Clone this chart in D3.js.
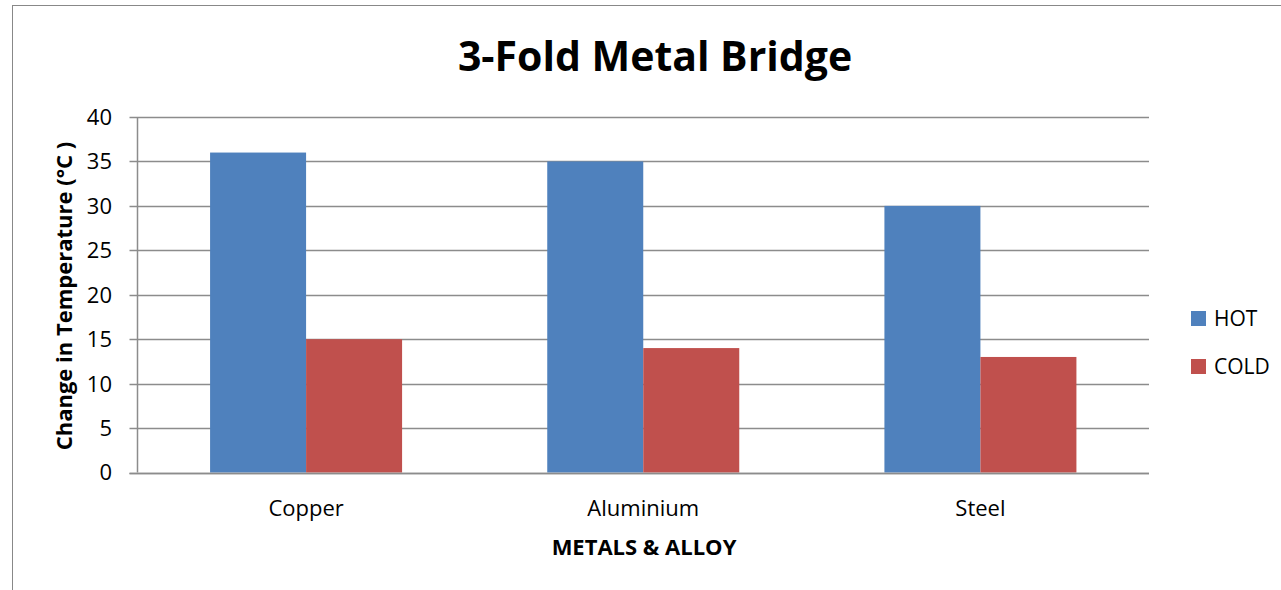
<!DOCTYPE html>
<html>
<head>
<meta charset="utf-8">
<script src="https://cdn.jsdelivr.net/npm/d3@7/dist/d3.min.js"></script>
<style>
  html, body { margin: 0; padding: 0; background: #fff; }
  svg { display: block; font-family: "Open Sans", "DejaVu Sans", sans-serif; }
</style>
</head>
<body>
<svg id="chart" width="1281" height="590"></svg>
<script>
// Temperature change per material
const metals = ["Copper", "Aluminium", "Steel"];
const seriesNames = ["HOT", "COLD"];
const hotValues = [36, 35, 30];
const coldValues = [15, 14, 13];
const yTicks = [0, 5, 10, 15, 20, 25, 30, 35, 40];
const seriesColors = ["#4F81BD", "#C0504D"];

const svg = d3.select("#chart");
const plot = { left: 137.5, right: 1149, top: 117, bottom: 472.5 };

// Outer frame (left and top edges visible)
svg.append("rect")
  .attr("x", 12.5).attr("y", 5.5)
  .attr("width", 1300).attr("height", 700)
  .attr("fill", "#fff").attr("stroke", "#888").attr("stroke-width", 1);

const x0 = d3.scaleBand().domain(metals).range([plot.left, plot.right]).padding(0);
const x1 = d3.scaleBand().domain(seriesNames).range([0, x0.bandwidth()])
  .paddingInner(0).paddingOuter(0.756);
const y = d3.scaleLinear().domain([0, 40]).range([plot.bottom, plot.top]);
const color = d3.scaleOrdinal().domain(seriesNames).range(seriesColors);

// Gridlines with left tick stubs
svg.append("g")
  .selectAll("line")
  .data(yTicks)
  .join("line")
  .attr("x1", plot.left - 8).attr("x2", plot.right)
  .attr("y1", d => Math.round(y(d)) + 0.5).attr("y2", d => Math.round(y(d)) + 0.5)
  .attr("stroke", "#8c8c8c").attr("stroke-width", 1.5);

// Y axis line
svg.append("line")
  .attr("x1", plot.left).attr("x2", plot.left)
  .attr("y1", plot.top).attr("y2", plot.bottom)
  .attr("stroke", "#8c8c8c").attr("stroke-width", 1.5);

// Bars
const rows = metals.map((m, i) => ({ metal: m, values: [hotValues[i], coldValues[i]] }));
svg.append("g")
  .selectAll("g")
  .data(rows)
  .join("g")
  .attr("transform", d => `translate(${x0(d.metal)},0)`)
  .selectAll("rect")
  .data(d => d.values.map((v, j) => ({ key: seriesNames[j], value: v })))
  .join("rect")
  .attr("x", d => x1(d.key))
  .attr("width", x1.bandwidth())
  .attr("y", d => y(d.value))
  .attr("height", d => y(0) - y(d.value))
  .attr("fill", d => color(d.key));

// Baseline drawn over the bars
svg.append("line")
  .attr("x1", plot.left - 8).attr("x2", plot.right)
  .attr("y1", Math.round(y(0)) + 0.5).attr("y2", Math.round(y(0)) + 0.5)
  .attr("stroke", "#8c8c8c").attr("stroke-width", 1.5);

// Y tick labels
svg.append("g")
  .selectAll("text")
  .data(yTicks)
  .join("text")
  .attr("x", 112)
  .attr("y", d => y(d))
  .attr("dy", "0.36em")
  .attr("text-anchor", "end")
  .attr("font-size", 22)
  .attr("fill", "#000")
  .text(d => d);

// Category labels
svg.append("g")
  .selectAll("text")
  .data(metals)
  .join("text")
  .attr("x", d => x0(d) + x0.bandwidth() / 2)
  .attr("y", 516)
  .attr("text-anchor", "middle")
  .attr("font-size", 22)
  .attr("fill", "#000")
  .text(d => d);

// Title
svg.append("text")
  .attr("x", 655).attr("y", 71)
  .attr("text-anchor", "middle")
  .attr("font-size", 41).attr("font-weight", "bold")
  .attr("fill", "#000")
  .text("3-Fold Metal Bridge");

// Axis titles
svg.append("text")
  .attr("x", 644).attr("y", 555)
  .attr("text-anchor", "middle")
  .attr("font-size", 22).attr("font-weight", "bold")
  .attr("fill", "#000")
  .text("METALS & ALLOY");

svg.append("text")
  .attr("transform", "translate(72,296) rotate(-90)")
  .attr("text-anchor", "middle")
  .attr("font-size", 22).attr("font-weight", "bold")
  .attr("fill", "#000")
  .text("Change in Temperature (°C )");

// Legend
const legend = svg.append("g")
  .selectAll("g")
  .data(seriesNames)
  .join("g")
  .attr("transform", (d, i) => `translate(1191,${311 + i * 48})`);
legend.append("rect")
  .attr("width", 15).attr("height", 15)
  .attr("fill", d => color(d));
legend.append("text")
  .attr("x", 23).attr("y", 15)
  .attr("font-size", 21)
  .attr("fill", "#000")
  .text(d => d);
</script>
</body>
</html>
